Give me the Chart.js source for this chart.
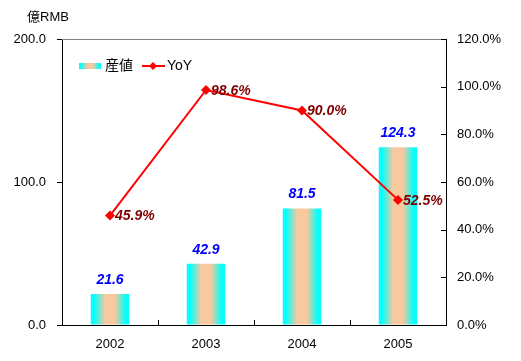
<!DOCTYPE html>
<html>
<head>
    <title>産値 / YoY</title>
    <script src="https://cdn.jsdelivr.net/npm/chart.js"></script>
    <style>
        html, body { margin: 0; padding: 0; background: #ffffff; }
        .box { width: 521px; height: 361px; position: relative; }
    </style>
</head>
<body>
    <div class="box"><canvas id="chart" width="521" height="361"></canvas></div>

    <script type="text/javascript">
        // data
        var years = ['2002', '2003', '2004', '2005'];
        var output = [21.6, 42.9, 81.5, 124.3];      // 億RMB
        var yoy = [45.9, 98.6, 90.0, 52.5];          // %
        var barName = '産値';
        var lineName = 'YoY';
        var unitLabel = '億RMB';

        var FONT = '"Liberation Sans", Arial, "Noto Sans CJK JP", sans-serif';
        var CYAN = '#00ffff';
        var PEACH = '#f9c89c';

        function barGradient(ctx, x0, x1) {
            var g = ctx.createLinearGradient(x0, 0, x1, 0);
            g.addColorStop(0, CYAN);
            g.addColorStop(0.08, CYAN);
            g.addColorStop(0.38, PEACH);
            g.addColorStop(0.62, PEACH);
            g.addColorStop(0.92, CYAN);
            g.addColorStop(1, CYAN);
            return g;
        }

        // bar fill: horizontal cyan-peach-cyan gradient per bar
        function barFill(c) {
            var chart = c.chart;
            if (!chart.chartArea || c.dataIndex === undefined) return CYAN;
            var xs = chart.scales.x;
            var half = (xs.width / years.length) * 0.4 / 2;
            var cx = xs.getPixelForValue(c.dataIndex);
            return barGradient(chart.ctx, cx - half, cx + half);
        }

        var extras = {
            id: 'extras',
            afterDraw: function (chart) {
                var ctx = chart.ctx;
                var a = chart.chartArea;
                var xs = chart.scales.x;
                var yr = chart.scales.y1;
                ctx.save();

                // grey top border of the plot
                ctx.strokeStyle = '#808080';
                ctx.lineWidth = 1;
                ctx.beginPath();
                ctx.moveTo(a.left, a.top + 0.5);
                ctx.lineTo(a.right, a.top + 0.5);
                ctx.stroke();

                // inner tick marks: right axis and category boundaries
                ctx.strokeStyle = '#000000';
                ctx.beginPath();
                yr.ticks.forEach(function (t) {
                    var y = Math.round(yr.getPixelForValue(t.value)) + 0.5;
                    ctx.moveTo(a.right - 5, y);
                    ctx.lineTo(a.right, y);
                });
                var step = xs.width / years.length;
                for (var i = 1; i < years.length; i++) {
                    var x = Math.round(xs.left + step * i) + 0.5;
                    ctx.moveTo(x, a.bottom - 5);
                    ctx.lineTo(x, a.bottom);
                }
                ctx.stroke();

                // unit label
                ctx.fillStyle = '#000000';
                ctx.font = '13px ' + FONT;
                ctx.textAlign = 'left';
                ctx.textBaseline = 'middle';
                ctx.fillText(unitLabel, 27, 17);

                // bar values
                var barMeta = chart.getDatasetMeta(0);
                ctx.fillStyle = '#0000ff';
                ctx.font = 'italic bold 14px ' + FONT;
                ctx.textAlign = 'center';
                ctx.textBaseline = 'bottom';
                barMeta.data.forEach(function (el, i) {
                    ctx.fillText(output[i].toFixed(1), el.x, el.y - 7);
                });

                // YoY values
                var lineMeta = chart.getDatasetMeta(1);
                ctx.fillStyle = '#800000';
                ctx.font = 'italic bold 14px ' + FONT;
                ctx.textAlign = 'left';
                ctx.textBaseline = 'middle';
                lineMeta.data.forEach(function (el, i) {
                    ctx.fillText(yoy[i].toFixed(1) + '%', el.x + 5, el.y + 1);
                });

                // legend
                var ly = 66;
                ctx.fillStyle = barGradient(ctx, 79, 101);
                ctx.fillRect(79, ly - 3, 22, 6);
                ctx.fillStyle = '#000000';
                ctx.font = '14px ' + FONT;
                ctx.fillText(barName, 105, ly);
                ctx.strokeStyle = '#ff0000';
                ctx.lineWidth = 2;
                ctx.beginPath();
                ctx.moveTo(142, ly);
                ctx.lineTo(165, ly);
                ctx.stroke();
                ctx.fillStyle = '#ff0000';
                ctx.beginPath();
                ctx.moveTo(153, ly - 4);
                ctx.lineTo(157, ly);
                ctx.lineTo(153, ly + 4);
                ctx.lineTo(149, ly);
                ctx.closePath();
                ctx.fill();
                ctx.fillStyle = '#000000';
                ctx.fillText(lineName, 167, ly);

                ctx.restore();
            }
        };

        new Chart(document.getElementById('chart').getContext('2d'), {
            data: {
                labels: years,
                datasets: [{
                    type: 'bar',
                    label: barName,
                    data: output,
                    yAxisID: 'y',
                    backgroundColor: barFill,
                    borderWidth: 0,
                    categoryPercentage: 1.0,
                    barPercentage: 0.4,
                    order: 1
                }, {
                    type: 'line',
                    label: lineName,
                    data: yoy,
                    yAxisID: 'y1',
                    borderColor: '#ff0000',
                    backgroundColor: '#ff0000',
                    borderWidth: 2,
                    pointStyle: 'rectRot',
                    pointRadius: 5,
                    pointBorderWidth: 0,
                    tension: 0,
                    order: 0
                }]
            },
            options: {
                responsive: false,
                animation: false,
                layout: { padding: { top: 39, left: 0, right: 0, bottom: 0 } },
                plugins: {
                    legend: { display: false },
                    tooltip: { enabled: false }
                },
                scales: {
                    x: {
                        offset: true,
                        grid: { display: true, drawOnChartArea: false, drawTicks: false },
                        border: { color: '#000000', width: 1 },
                        ticks: { color: '#000000', font: { family: FONT, size: 13 }, padding: 12 },
                        afterFit: function (s) { s.height = 36; }
                    },
                    y: {
                        position: 'left',
                        min: 0,
                        max: 200,
                        ticks: {
                            stepSize: 100,
                            color: '#000000',
                            font: { family: FONT, size: 13 },
                            padding: 11,
                            callback: function (v) { return v.toFixed(1); }
                        },
                        grid: { drawOnChartArea: false, drawTicks: true, tickLength: 5, color: '#000000' },
                        border: { color: '#000000', width: 1 },
                        afterFit: function (s) { s.width = 62; }
                    },
                    y1: {
                        position: 'right',
                        min: 0,
                        max: 120,
                        ticks: {
                            stepSize: 20,
                            color: '#000000',
                            font: { family: FONT, size: 13 },
                            padding: 11,
                            callback: function (v) { return v.toFixed(1) + '%'; }
                        },
                        grid: { display: true, drawOnChartArea: false, drawTicks: false },
                        border: { color: '#000000', width: 1 },
                        afterFit: function (s) { s.width = 75; }
                    }
                }
            },
            plugins: [extras]
        });
    </script>
</body>
</html>
